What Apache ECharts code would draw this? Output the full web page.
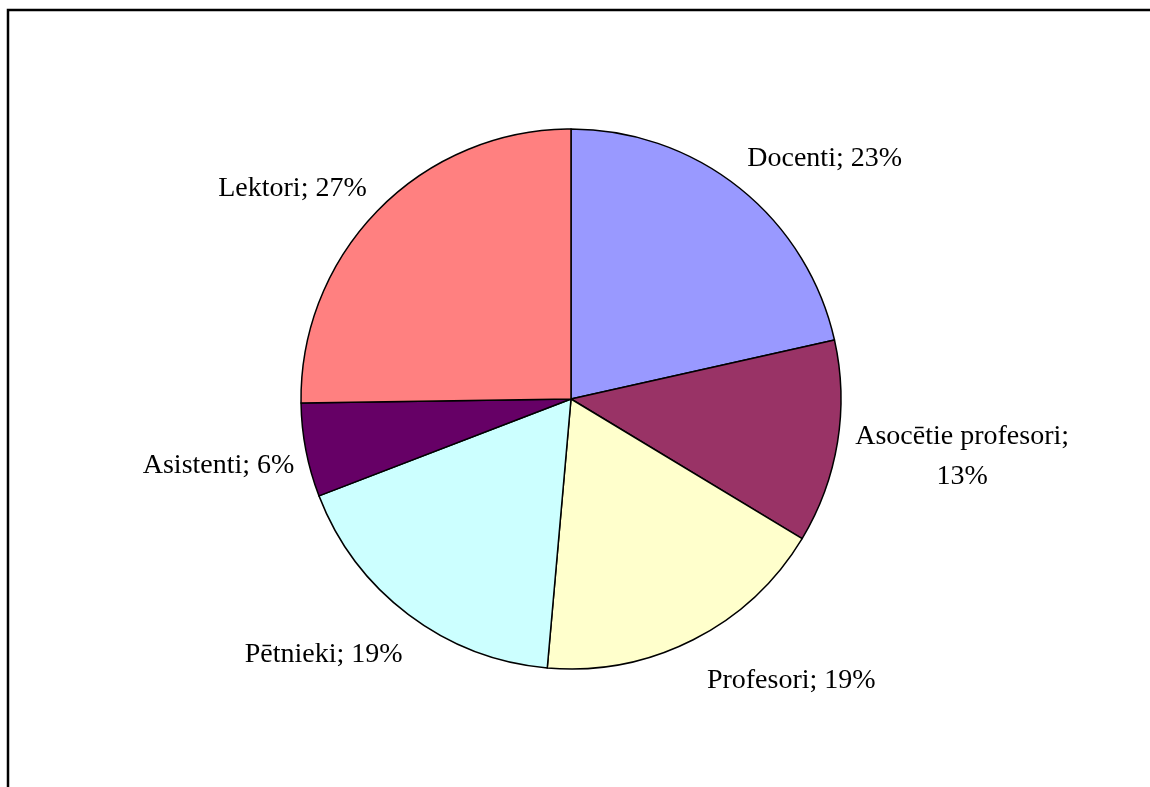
<!DOCTYPE html>
<html>
<head>
<meta charset="utf-8">
<script src="https://cdn.jsdelivr.net/npm/echarts@6/dist/echarts.min.js"></script>
<style>
  html, body { margin: 0; padding: 0; background: #fff; }
  #chart { width: 1150px; height: 787px; }
</style>
</head>
<body>
<div id="chart"></div>
<script>
const categories = ["Docenti", "Asocētie profesori", "Profesori", "Pētnieki", "Asistenti", "Lektori"]
const values = [23, 13, 19, 19, 6, 27]
const colors = ["#9999FF", "#993366", "#FFFFCC", "#CCFFFF", "#660066", "#FF8080"]
// small nudges so labels sit where the original spreadsheet put them
const labelShift = [[-15, -8], [-18, 10], [-4, 16], [16, 18], [21, 10], [13, -1]]

const chart = echarts.init(document.getElementById("chart"))

const pieData = categories.map(function (name, i) {
  return { name: name, value: values[i], itemStyle: { color: colors[i] } }
})

const option = {
  animation: false,
  backgroundColor: "#fff",
  graphic: [
    {
      // outer chart frame (runs off the right and bottom edges)
      type: "rect",
      shape: { x: 8, y: 10, width: 1200, height: 900 },
      style: { fill: "none", stroke: "#000", lineWidth: 2.5 },
      silent: true,
    },
  ],
  series: [
    {
      type: "pie",
      center: [571, 399],
      radius: 270,
      startAngle: 90,
      clockwise: true,
      avoidLabelOverlap: false,
      data: pieData,
      itemStyle: { borderColor: "#000", borderWidth: 1.5 },
      label: {
        show: true,
        position: "outside",
        fontFamily: "Liberation Serif",
        fontSize: 28,
        color: "#000",
        formatter: function (p) {
          // long names wrap onto two centred lines
          if (p.name.length > 12) {
            return "{w|" + p.name + ";}\n{w|" + p.value + "%}"
          }
          return p.name + "; " + p.value + "%"
        },
        rich: {
          w: {
            width: 220,
            align: "center",
            lineHeight: 40,
            fontFamily: "Liberation Serif",
            fontSize: 28,
            color: "#000",
          },
        },
      },
      labelLine: { show: false, length: 28, length2: 0 },
      labelLayout: function (params) {
        const s = labelShift[params.dataIndex]
        return { dx: s[0], dy: s[1] }
      },
      emphasis: { disabled: true },
    },
  ],
}

option && chart.setOption(option)
</script>
</body>
</html>
